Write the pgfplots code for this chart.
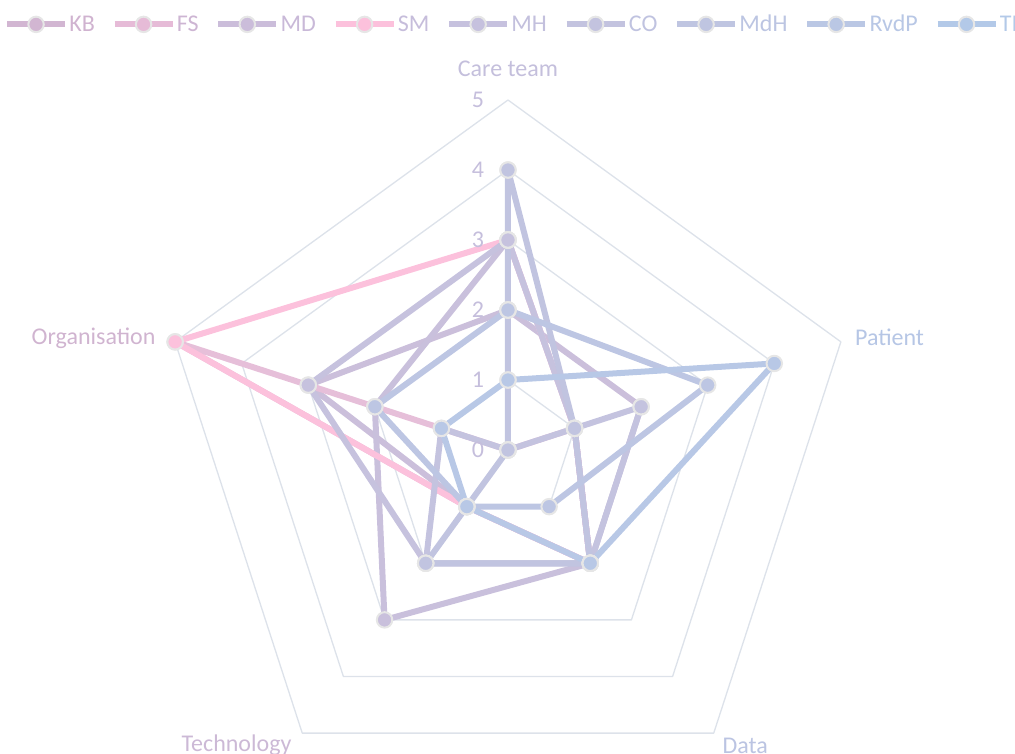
\documentclass[border=0pt]{standalone}
\usepackage{fontspec}
\setmainfont{Carlito}
\usepackage{pgfplots}
\pgfplotsset{compat=1.18}
\usepgfplotslibrary{polar}

% legend colours
\definecolor{cKB}{HTML}{D2B6D2}
\definecolor{cFS}{HTML}{E6BBD7}
\definecolor{cMD}{HTML}{CBBDDA}
\definecolor{cSM}{HTML}{FCC1DC}
\definecolor{cMH}{HTML}{C6C1DE}
\definecolor{cCO}{HTML}{C3C3DF}
\definecolor{cMdH}{HTML}{BFC5E1}
\definecolor{cRvdP}{HTML}{BAC7E4}
\definecolor{cTI}{HTML}{B3C9E8}
% line colours as seen in the plot
\definecolor{lKB}{HTML}{CBBFDB}
\definecolor{lFS}{HTML}{E6BFD9}
\definecolor{lMD}{HTML}{C9C0DC}
\definecolor{lSM}{HTML}{FCC1DC}
\definecolor{lMH}{HTML}{C6C2DE}
\definecolor{lCO}{HTML}{C4C3DF}
\definecolor{lMdH}{HTML}{C1C4E0}
\definecolor{lRvdP}{HTML}{BDC6E3}
\definecolor{lTI}{HTML}{B8C8E6}
\definecolor{tKB}{HTML}{D0B3D0}
\definecolor{tFS}{HTML}{CDB5D3}
\definecolor{tMD}{HTML}{C9B9D8}
\definecolor{tSM}{HTML}{C6BDDB}
\definecolor{tMH}{HTML}{C3C0DD}
\definecolor{tCO}{HTML}{C0C3E0}
\definecolor{tMdH}{HTML}{BCC5E2}
\definecolor{tRvdP}{HTML}{B8C7E5}
\definecolor{tTI}{HTML}{B3C9E8}
\definecolor{tOrg}{HTML}{D0B4D0}
\definecolor{tTech}{HTML}{CCB9D6}
\definecolor{tCare}{HTML}{C4BFDC}
\definecolor{tTick}{HTML}{C5BEDC}
\definecolor{tData}{HTML}{BBC4E2}
\definecolor{tPat}{HTML}{B6C6E5}
\definecolor{gridc}{HTML}{DDE2EA}
\definecolor{mkc}{HTML}{E6E6E6}

\newcommand{\lf}{\fontsize{18bp}{20bp}\selectfont}

\begin{document}
\begin{tikzpicture}[x=1bp,y=1bp, lab/.style={text=#1, font=\lf}]
\begin{scope}
\clip (-381,-228) rectangle (380.25,337.5);
\begin{polaraxis}[
  at={(0,0)}, anchor=center,
  width=525bp, height=525bp, scale only axis,
  xmin=0, xmax=360, ymin=0, ymax=5,
  hide axis, clip=false,
  legend columns=9,
  legend style={draw=none, fill=none, at={(0.505,1.108)}, anchor=center,
    font=\lf,
    nodes={inner sep=1bp},
    /tikz/every even column/.append style={column sep=11.5bp}},
  legend image code/.code={\draw[mark repeat=2,mark phase=2,#1] plot coordinates {(0bp,0bp) (21.75bp,0bp) (43.5bp,0bp)};},
  every axis plot/.append style={line width=4.5bp, line join=round, mark=*, mark size=5.8bp},
  ser/.style={draw=#1, mark options={solid, fill=#1, draw=mkc, line width=1.5bp}},
  leg/.style={draw=#1, line width=4.5bp, mark=*, mark size=5.8bp, mark options={solid, fill=#1, draw=mkc, line width=1.5bp}},
]
% pentagon grid
\addplot[forget plot, draw=gridc, line width=1bp, mark=none] coordinates {(90,1) (18,1) (-54,1) (-126,1) (162,1) (90,1)};
\addplot[forget plot, draw=gridc, line width=1bp, mark=none] coordinates {(90,2) (18,2) (-54,2) (-126,2) (162,2) (90,2)};
\addplot[forget plot, draw=gridc, line width=1bp, mark=none] coordinates {(90,3) (18,3) (-54,3) (-126,3) (162,3) (90,3)};
\addplot[forget plot, draw=gridc, line width=1bp, mark=none] coordinates {(90,4) (18,4) (-54,4) (-126,4) (162,4) (90,4)};
\addplot[forget plot, draw=gridc, line width=1bp, mark=none] coordinates {(90,5) (18,5) (-54,5) (-126,5) (162,5) (90,5)};

% series: Care team (90), Patient (18), Data (-54), Technology (-126), Organisation (162)
\addplot[ser=lKB, forget plot] coordinates {(90,2) (18,2) (-54,2) (-126,1) (162,3) (90,2)};   % KB
\addplot[ser=lFS, forget plot] coordinates {(90,0) (18,1) (-54,2) (-126,1) (162,5) (90,0)};   % FS
\addplot[ser=lMD, forget plot] coordinates {(90,3) (18,1) (-54,2) (-126,3) (162,2) (90,3)};   % MD
\addplot[ser=lSM, forget plot] coordinates {(90,3) (18,1) (-54,2) (-126,1) (162,5) (90,3)};   % SM
\addplot[ser=lMH, forget plot] coordinates {(90,3) (18,1) (-54,2) (-126,2) (162,3) (90,3)};   % MH
\addplot[ser=lCO, forget plot] coordinates {(90,0) (18,2) (-54,2) (-126,2) (162,1) (90,0)};   % CO
\addplot[ser=lMdH, forget plot] coordinates {(90,4) (18,1) (-54,2) (-126,2) (162,0) (90,4)};  % MdH
\addplot[ser=lRvdP, forget plot] coordinates {(90,2) (18,3) (-54,1) (-126,1) (162,2) (90,2)}; % RvdP
\addplot[ser=lTI, forget plot] coordinates {(90,1) (18,4) (-54,2) (-126,1) (162,1) (90,1)};   % TI

\addlegendimage{leg=cKB}\addlegendentry{\textcolor{tKB}{KB}}
\addlegendimage{leg=cFS}\addlegendentry{\textcolor{tFS}{FS}}
\addlegendimage{leg=cMD}\addlegendentry{\textcolor{tMD}{MD}}
\addlegendimage{leg=cSM}\addlegendentry{\textcolor{tSM}{SM}}
\addlegendimage{leg=cMH}\addlegendentry{\textcolor{tMH}{MH}}
\addlegendimage{leg=cCO}\addlegendentry{\textcolor{tCO}{CO}}
\addlegendimage{leg=cMdH}\addlegendentry{\textcolor{tMdH}{MdH}}
\addlegendimage{leg=cRvdP}\addlegendentry{\textcolor{tRvdP}{RvdP}}
\addlegendimage{leg=cTI}\addlegendentry{\textcolor{tTI}{TI}}

% tick labels
\node[lab=tTick, xshift=-22.5bp] at (axis cs:90,0) {0};
\node[lab=tTick, xshift=-22.5bp] at (axis cs:90,1) {1};
\node[lab=tTick, xshift=-22.5bp] at (axis cs:90,2) {2};
\node[lab=tTick, xshift=-22.5bp] at (axis cs:90,3) {3};
\node[lab=tTick, xshift=-22.5bp] at (axis cs:90,4) {4};
\node[lab=tTick, xshift=-22.5bp] at (axis cs:90,5) {5};
% category labels
\node[lab=tCare] at (axis cs:90,5.443) {Care team};
\node[lab=tPat, anchor=west, inner sep=0pt] at (axis cs:18,5.21) {Patient};
\node[lab=tOrg, anchor=east, inner sep=0pt] at (axis cs:162.4,5.28) {Organisation};
\node[lab=tTech] at (axis cs:-132.6,5.73) {Technology};
\node[lab=tData] at (axis cs:-51.3,5.42) {Data};
\end{polaraxis}
\end{scope}
\pgfresetboundingbox
\useasboundingbox (-381,-228) rectangle (380.25,337.5);
\end{tikzpicture}
\end{document}
